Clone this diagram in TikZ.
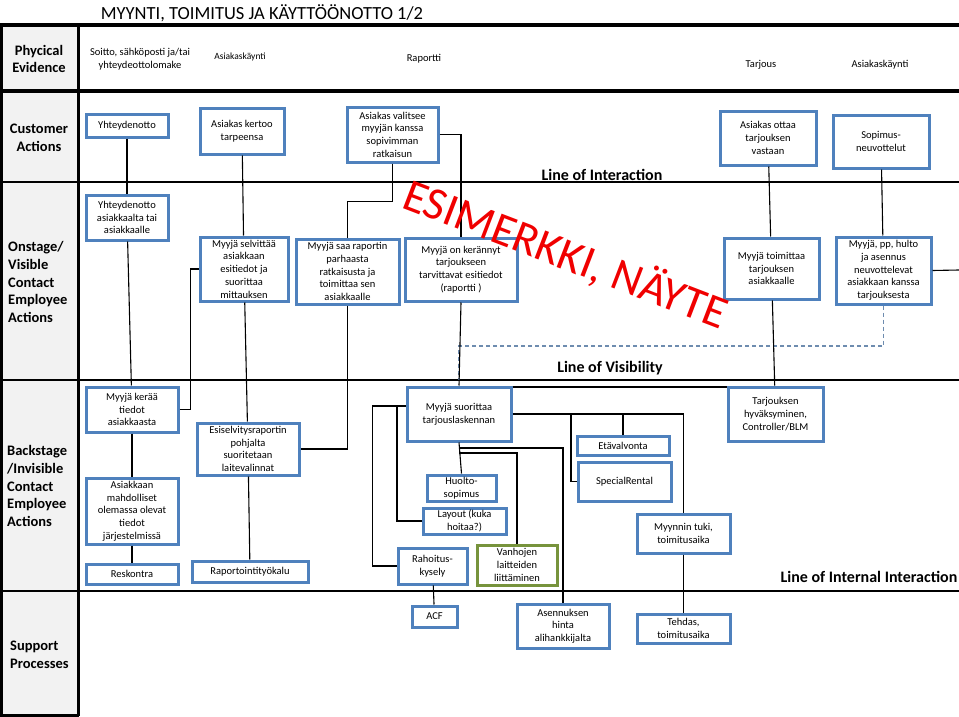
\documentclass[tikz,border=0pt]{standalone}
\usepackage{fontspec}
\setmainfont{Carlito}
\usetikzlibrary{calc}
\definecolor{boxblue}{RGB}{79,129,189}
\definecolor{boxgreen}{RGB}{119,147,60}
\definecolor{cellgray}{RGB}{242,242,242}
\definecolor{dashblue}{RGB}{110,140,175}
\definecolor{wmred}{RGB}{240,0,0}
\begin{document}
\begin{tikzpicture}[x=1pt,y=-1pt,
  box/.style={draw=boxblue, line width=3pt, fill=white, align=center, inner sep=1pt, font=\fontsize{10.5}{12.7}\selectfont},
  gbox/.style={box, draw=boxgreen},
  conn/.style={draw=black, line width=1.1pt},
  sep/.style={line width=2.2pt},
  septhick/.style={line width=3.4pt},
  lab/.style={font=\fontsize{14.5}{17.7}\selectfont\bfseries, align=left, anchor=west, inner sep=0},
  labc/.style={font=\fontsize{14.5}{17.7}\selectfont\bfseries, align=center, inner sep=0},
  pe/.style={font=\fontsize{10.5}{12.7}\selectfont, align=center, inner sep=0},
  linelab/.style={font=\fontsize{16}{19}\selectfont\bfseries, inner sep=0},
  dashline/.style={draw=dashblue, line width=1.1pt, dash pattern=on 4pt off 3pt},
]
\useasboundingbox (0,0) rectangle (959,717);
\fill[white] (0,0) rectangle (959,717);
\fill[cellgray] (0,25) rectangle (79,716);

% separators
\draw[septhick] (0,25) -- (959,25);
\draw[septhick] (0,91) -- (959,91);
\draw[sep] (0,182) -- (959,182);
\draw[sep] (0,380) -- (959,380);
\draw[sep] (0,591) -- (959,591);
\draw[septhick] (78.5,25) -- (78.5,716);
\draw[septhick] (1,25) -- (1,716) -- (78.5,716);

% title
\node[font=\fontsize{18.5}{22}\selectfont, inner sep=0] (title) at (262,13) {MYYNTI, TOIMITUS JA KÄYTTÖÖNOTTO 1/2};

% left labels
\node[labc] (lab1) at (39,59) {Phycical\\Evidence};
\node[labc] (lab2) at (39,138) {Customer\\Actions};
\node[lab] (lab3) at (8,282) {Onstage/\\Visible\\Contact\\Employee\\Actions};
\node[lab] (lab4) at (7,486) {Backstage\\/Invisible\\Contact\\Employee\\Actions};
\node[lab] (lab5) at (10,655) {Support\\Processes};

% physical evidence
\node[pe] (pe1) at (140,59) {Soitto, sähköposti ja/tai\\yhteydeottolomake};
\node[pe, font=\fontsize{9.5}{11}\selectfont] (pe2) at (240,57) {Asiakaskäynti};
\node[pe] (pe3) at (424,59) {Raportti};
\node[pe] (pe4) at (761,65) {Tarjous};
\node[pe] (pe5) at (880,65) {Asiakaskäynti};

% customer actions
\node[box, minimum width=82, minimum height=23] (ca1) at (127,125.5) {Yhteydenotto};
\node[box, minimum width=84, minimum height=46] (ca2) at (242,131) {Asiakas kertoo\\tarpeensa};
\node[box, minimum width=91, minimum height=55] (ca3) at (392.5,134.5) {Asiakas valitsee\\myyjän kanssa\\sopivimman\\ratkaisun};
\node[box, minimum width=96, minimum height=54] (ca4) at (768,138) {Asiakas ottaa\\tarjouksen\\vastaan};
\node[box, minimum width=96, minimum height=53] (ca5) at (881,141.5) {Sopimus-\\neuvottelut};

% onstage
\node[box, minimum width=82, minimum height=45] (on1) at (127,217.5) {Yhteydenotto\\asiakkaalta tai\\asiakkaalle};
\node[box, minimum width=88, minimum height=64] (on2) at (244,269) {Myyjä selvittää\\asiakkaan\\esitiedot ja\\suorittaa\\mittauksen};
\node[box, minimum width=103, minimum height=65] (on3) at (347.5,271.5) {Myyjä saa raportin\\parhaasta\\ratkaisusta ja\\toimittaa sen\\asiakkaalle};
\node[box, minimum width=112, minimum height=63] (on4) at (461,269.5) {Myyjä on kerännyt\\tarjoukseen\\tarvittavat esitiedot\\(raportti )};
\node[box, minimum width=95, minimum height=61] (on5) at (771.5,268.5) {Myyjä toimittaa\\tarjouksen\\asiakkaalle};
\node[box, minimum width=95, minimum height=67] (on6) at (883.5,270.5) {Myyjä, pp, hulto\\ja asennus\\neuvottelevat\\asiakkaan kanssa\\tarjouksesta};

% backstage
\node[box, minimum width=92, minimum height=45] (b1) at (132,409.5) {Myyjä kerää\\tiedot\\asiakkaasta};
\node[box, minimum width=92, minimum height=66] (b2) at (132,511) {Asiakkaan\\mahdolliset\\olemassa olevat\\tiedot\\järjestelmissä};
\node[box, minimum width=92, minimum height=20] (b3) at (132,574) {Reskontra};
\node[box, minimum width=102, minimum height=52] (b4) at (248,449) {Esiselvitysraportin\\pohjalta\\suoritetaan\\laitevalinnat};
\node[box, minimum width=116, minimum height=21] (b5) at (250,571.5) {Raportointityökalu};
\node[box, minimum width=104, minimum height=54] (b6) at (459,414) {Myyjä suorittaa\\tarjouslaskennan};
\node[box, minimum width=69, minimum height=26] (b7) at (461.5,488) {Huolto-\\sopimus};
\node[box, minimum width=83, minimum height=26] (b8) at (464.5,521) {Layout (kuka\\hoitaa?)};
\node[box, minimum width=69, minimum height=36] (b9) at (432.5,566) {Rahoitus-\\kysely};
\node[gbox, minimum width=80, minimum height=40] (b10) at (517,565) {Vanhojen\\laitteiden\\liittäminen};
\node[box, minimum width=92, minimum height=19] (b11) at (623,445.5) {Etävalvonta};
\node[box, minimum width=93, minimum height=39] (b12) at (624.5,481.5) {SpecialRental};
\node[box, minimum width=93, minimum height=39] (b13) at (683.5,533.5) {Myynnin tuki,\\toimitusaika};
\node[box, minimum width=95, minimum height=54] (b14) at (775.5,414) {Tarjouksen\\hyväksyminen,\\Controller/BLM};

% support
\node[box, minimum width=45, minimum height=21] (acf) at (434.5,616.5) {ACF};
\node[box, minimum width=92, minimum height=44] (asen) at (563,626) {Asennuksen\\hinta\\alihankkijalta};
\node[box, minimum width=93, minimum height=29] (tehdas) at (683.5,628.5) {Tehdas,\\toimitusaika};

% line labels
\node[linelab] (loi) at (602,175) {Line of Interaction};
\node[linelab] (lov) at (610,368) {Line of Visibility};
\node[linelab] (lii) at (869,577) {Line of Internal Interaction};

% coordinates
\coordinate (redge) at (959,270);
\coordinate (lovA) at (459,346);
\coordinate (lovB) at (459,380);
\coordinate (j1) at (571,414);
\coordinate (j2) at (623,414);
\coordinate (j3) at (397,406);
\coordinate (j4) at (459,448);
\coordinate (j5) at (459,453);

% line of visibility (dashed)
\draw[dashline] (on6.south) |- (lovA) -- (lovB);

% connectors
\draw[conn] (ca1) -- (on1);
\draw[conn] (on1) -- (b1);
\draw[conn] (ca2) -- (on2);
\draw[conn] (on2) -- (b4);
\draw[conn] (b1.east) -- ++(11,0) |- (on2.west);
\draw[conn] (ca3.south) -- ++(0,38) -| (on3.north);
\draw[conn] (ca3.east) -| (on4.north);
\draw[conn] (on3.south) |- (b4.east);
\draw[conn] (on4.south) -- (b6.north);
\draw[conn] (ca4) -- (on5);
\draw[conn] (on5) -- (b14);
\draw[conn] (ca5) -- (on6);
\draw[conn] (on6.east) -- (redge);
\draw[conn] (b6.east) -| (b13.north);
\draw[conn] (j1) |- (b12.west);
\draw[conn] (j2) -- (b11.north);
\draw[conn] ([yshift=8pt]b6.west) -- ++(-33,0) |- (b9.west);
\draw[conn] (j3) |- (b8.west);
\draw[conn] (b6.south) -- (b7.north);
\draw[conn] (j4) -| (asen.north);
\draw[conn] (j5) -| (b10.north);
\draw[conn] ([yshift=-1.5pt]b6.north east) -- ([yshift=-1.5pt]b14.north west);
\draw[conn] (b13) -- (tehdas);
\draw[conn] (b9) -- (acf);
\draw[conn] (b1) -- (b2);
\draw[conn] (b2) -- (b3);
\draw[conn] (b4) -- (b5);

% watermark
\node[font=\fontsize{46}{52}\selectfont, text=wmred, rotate=-21, inner sep=0] (wm) at (566,254) {ESIMERKKI, NÄYTE};
\end{tikzpicture}
\end{document}
